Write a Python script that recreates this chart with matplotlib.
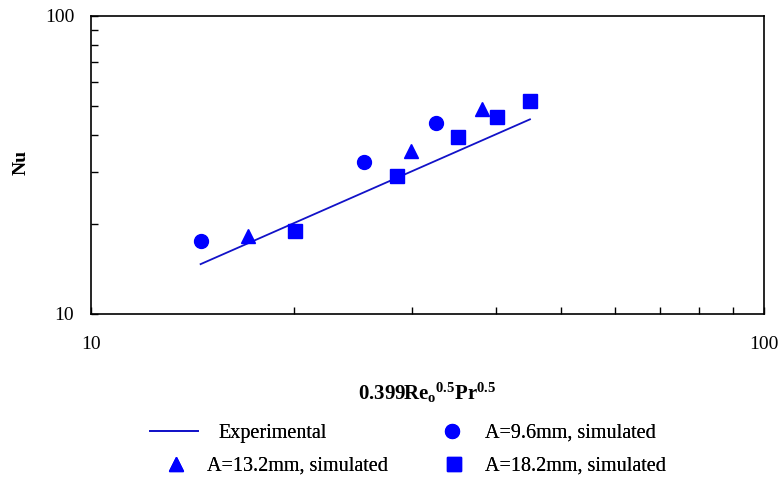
import matplotlib
matplotlib.use("Agg")
import matplotlib.pyplot as plt
from matplotlib.ticker import NullFormatter, FixedLocator, FixedFormatter

plt.rcParams['font.family'] = ['Liberation Serif', 'DejaVu Serif']
plt.rcParams['mathtext.fontset'] = 'custom'
plt.rcParams['mathtext.rm'] = 'Liberation Serif'
plt.rcParams['mathtext.bf'] = 'Liberation Serif:bold'
plt.rcParams['mathtext.it'] = 'Liberation Serif:italic'

# Data
exp_x = [14.55, 44.9]
exp_y = [14.7, 45.0]
a96_x = [14.55, 25.45, 32.55]
a96_y = [17.6, 32.3, 43.9]
a132_x = [17.13, 29.86, 38.14]
a132_y = [18.2, 35.3, 48.6]
a182_x = [20.1, 28.46, 35.14, 40.07, 44.9]
a182_y = [19.0, 29.1, 39.2, 45.9, 51.9]
labels = ['Experimental', 'A=9.6mm, simulated', 'A=13.2mm, simulated', 'A=18.2mm, simulated']

W, H = 781, 483
fig = plt.figure(figsize=(W/100, H/100), dpi=100)
ax = fig.add_axes([91/W, 1-314/H, (764-91)/W, (314-16)/H])

blue = '#0000FF'
l_exp, = ax.plot(exp_x, exp_y, color='#1212c8', lw=1.3, label=labels[0])
l96, = ax.plot(a96_x, a96_y, 'o', color=blue, ms=10, mec=blue, label=labels[1])
l132, = ax.plot(a132_x, a132_y, '^', color=blue, ms=10, mec=blue, label=labels[2])
l182, = ax.plot(a182_x, a182_y, 's', color=blue, ms=10, mec=blue, label=labels[3])

ax.set_xscale('log')
ax.set_yscale('log')
ax.set_xlim(10, 100)
ax.set_ylim(10, 100)

for axis in (ax.xaxis, ax.yaxis):
    axis.set_major_locator(FixedLocator([10, 100]))
    axis.set_major_formatter(FixedFormatter(['10', '100']))
    axis.set_minor_locator(FixedLocator([20, 30, 40, 50, 60, 70, 80, 90]))
    axis.set_minor_formatter(NullFormatter())

ax.tick_params(which='both', direction='in', length=5, width=1, labelsize=14,
               top=False, right=False)
ax.tick_params(axis='x', which='major', pad=16)
ax.tick_params(axis='y', which='major', pad=12)
for s in ax.spines.values():
    s.set_linewidth(1.2)

ax.set_ylabel('Nu', fontsize=14, fontweight='bold', va='center', ha='center')
ax.yaxis.set_label_coords((21-91)/673, (314-162)/298)
fig.text(427/W, 1-390/H, r'$\mathbf{0.399Re_o{}^{0.5}Pr^{0.5}}$', fontsize=15,
         ha='center', va='center_baseline')

# Legend entries placed individually
fs = 14.5
specs = [
    (l_exp, labels[0], 150, 433, 2.39, 1.0),
    (l96, labels[1], 434, 433, 1.79, 0.75),
    (l132, labels[2], 158, 466, 1.79, 0.65),
    (l182, labels[3], 436, 466, 1.79, 0.65),
]
for h, lab, x, y, hl, hp in specs:
    lg = fig.legend(handles=[h], labels=[lab], loc='center left',
                    bbox_to_anchor=(x/W, 1-y/H), frameon=False, fontsize=fs,
                    handlelength=hl, handletextpad=hp, borderpad=0,
                    borderaxespad=0, numpoints=1)
    fig.add_artist(lg)

fig.savefig('out.png', dpi=100)
